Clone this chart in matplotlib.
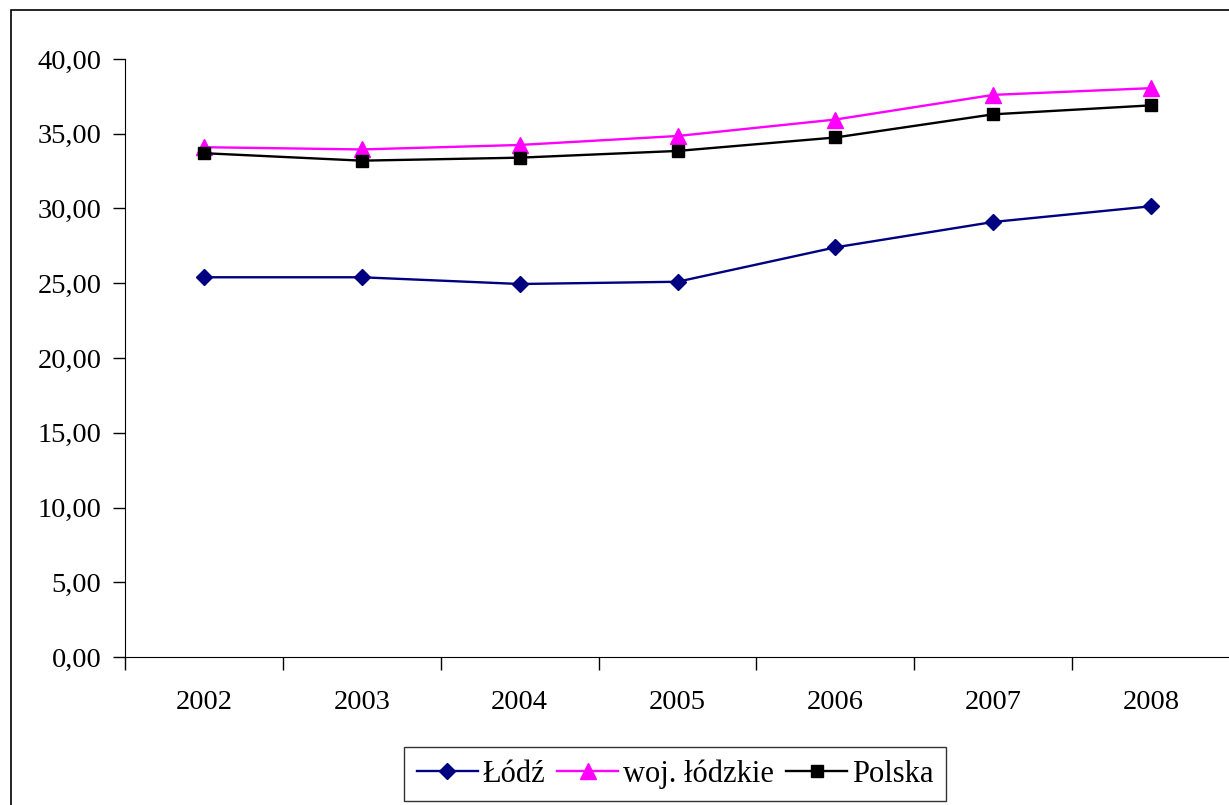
import matplotlib.pyplot as plt
from matplotlib.patches import Rectangle
from matplotlib.ticker import FixedLocator, FuncFormatter

plt.rcParams['font.family'] = ['Liberation Serif', 'DejaVu Serif']

# dane
lata = ['2002', '2003', '2004', '2005', '2006', '2007', '2008']
lodz = [25.40, 25.40, 24.95, 25.10, 27.40, 29.10, 30.15]
woj_lodzkie = [34.10, 33.95, 34.25, 34.85, 35.95, 37.60, 38.05]
polska = [33.70, 33.20, 33.40, 33.85, 34.75, 36.30, 36.90]

fig = plt.figure(figsize=(12.29, 8.05), dpi=100)
ax = fig.add_axes([125 / 1229, 1 - 657 / 805, 1105 / 1229, 598 / 805])

x = range(len(lata))
ax.plot(x, lodz, color='#000080', marker='D', markersize=8, linewidth=1.7, label='Łódź')
ax.plot(x, woj_lodzkie, color='#FF00FF', marker='^', markersize=11, linewidth=1.7, label='woj. łódzkie')
ax.plot(x, polska, color='black', marker='s', markersize=9, linewidth=1.7, label='Polska')

ax.set_xlim(-0.5, len(lata) - 0.5)
ax.set_ylim(0, 40)
ax.set_yticks([0, 5, 10, 15, 20, 25, 30, 35, 40])
ax.yaxis.set_major_formatter(FuncFormatter(lambda v, p: f'{v:.2f}'.replace('.', ',')))
ax.set_xticks(list(x))
ax.set_xticklabels(lata)
ax.xaxis.set_minor_locator(FixedLocator([i - 0.5 for i in range(len(lata) + 1)]))
ax.tick_params(axis='x', which='major', length=0, pad=24, labelsize=20.5)
ax.tick_params(axis='x', which='minor', length=9, width=1, direction='out')
ax.tick_params(axis='y', length=9, width=1, direction='out', labelsize=20.5, pad=8)

ax.spines['top'].set_visible(False)
ax.spines['right'].set_visible(False)

# ramka wykresu
fig.patches.append(Rectangle((11 / 1229, -0.1), 1.2, 1 - 10 / 805 + 0.1, transform=fig.transFigure,
                             fill=False, edgecolor='black', linewidth=1.2))

leg = fig.legend(loc='center', bbox_to_anchor=(675 / 1229, 1 - 774 / 805), ncol=3, fontsize=22,
                 frameon=True, fancybox=False, edgecolor='black', handlelength=2.0,
                 columnspacing=0.4, handletextpad=0.15, borderpad=0.4, borderaxespad=0)
leg.get_frame().set_linewidth(1.0)

fig.savefig('out.png', dpi=100)
